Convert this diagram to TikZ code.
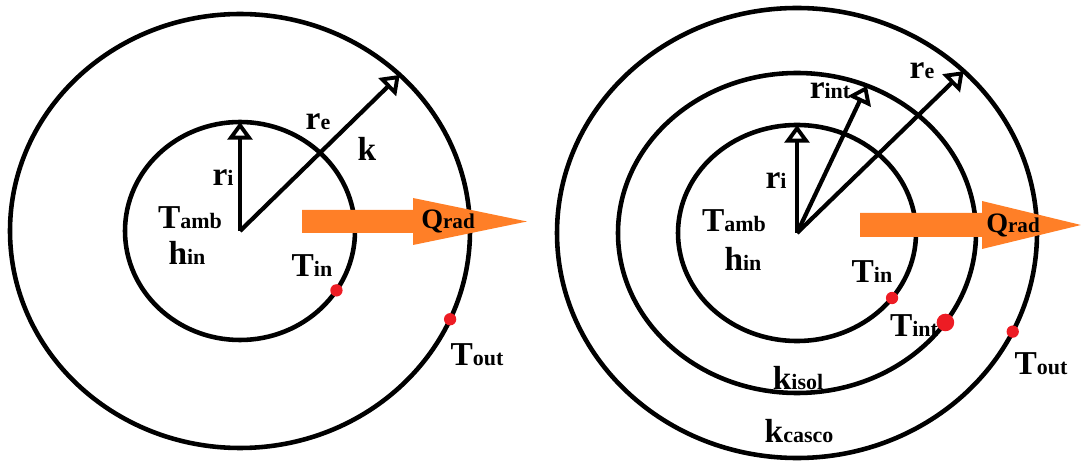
\documentclass[tikz,border=0pt]{standalone}
\usepackage{fontspec}
\setmainfont{Liberation Serif}
\usetikzlibrary{arrows.meta, positioning, calc}
\definecolor{paintorange}{HTML}{FF7F27}
\definecolor{paintred}{HTML}{ED1C24}
% big letter with a small tail on the same baseline
\newcommand{\symlbl}[2]{{\bfseries\fontsize{19}{19}\selectfont #1}{\bfseries\fontsize{12.5}{12.5}\selectfont #2}}
\newcommand{\qlbl}[2]{{\bfseries\fontsize{16}{16}\selectfont #1}{\bfseries\fontsize{12}{12}\selectfont #2}}

\begin{document}
\begin{tikzpicture}[
    x=0.02cm, y=0.02cm,
    wall/.style={line width=2.6pt},
    radvec/.style={line width=2.4pt,
                   -{Triangle[open, length=10pt, width=14pt, line width=2.2pt]}},
    lbl/.style={inner sep=0pt, text=black},
    probe/.style={circle, fill=paintred, inner sep=0pt, minimum size=#1},
    probe/.default=7pt,
    heat/.style={fill=paintorange},
  ]
    \useasboundingbox (0,0) rectangle (1081,463);

    % ---- single wall ----
    \coordinate (cL) at (240,232);
    \draw[wall] (cL) ellipse [x radius=115, y radius=109];
    \draw[wall] (cL) ellipse [x radius=230, y radius=217];
    \coordinate (riL) at ($(cL)+(90:115 and 109)$);
    \coordinate (reL) at ($(cL)+(46:230 and 217)$);
    \draw[radvec] (cL) -- (riL);
    \draw[radvec] (cL) -- (reL);

    \coordinate (qtailL) at (302,241.5);
    \coordinate (qneckL) at (413,241.5);
    \coordinate (qtipL)  at (527,241.5);
    \fill[heat] ($(qtailL)+(0,11.5)$) -- ($(qneckL)+(0,11.5)$) -- ($(qneckL)+(0,23.5)$)
      -- (qtipL) -- ($(qneckL)+(0,-23.5)$) -- ($(qneckL)+(0,-11.5)$)
      -- ($(qtailL)+(0,-11.5)$) -- cycle;

    \node[probe] (tinL) at ($(cL)+(-33:115 and 109)$) {};
    \node[probe] (toutL) at ($(cL)+(-24:230 and 217)$) {};

    \node[lbl] (lriL) at (223,285) {\symlbl{r}{i}};
    \node[lbl] (lreL) at (318,341) {\symlbl{r}{e}};
    \node[lbl] (lkL) at (367,314) {\symlbl{k}{}};
    \node[lbl] (ltambL) at (190,245) {\symlbl{T}{amb}};
    \node[lbl] (lhinL) at (187,210) {\symlbl{h}{in}};
    \node[lbl] (ltinL) at (312,197) {\symlbl{T}{in}};
    \node[lbl] (ltoutL) at (477,108) {\symlbl{T}{out}};
    \node[lbl] (lqL) at (448,242) {\qlbl{Q}{rad}};

    % ---- composite wall ----
    \coordinate (cR) at (797,230);
    \draw[wall] (cR) ellipse [x radius=119, y radius=108];
    \draw[wall] (cR) ellipse [x radius=179, y radius=160];
    \draw[wall] (cR) ellipse [x radius=240, y radius=225];
    \coordinate (riR) at ($(cR)+(90:119 and 108)$);
    \coordinate (rintR) at ($(cR)+(67:179 and 160)$);
    \coordinate (reR) at ($(cR)+(46:240 and 225)$);
    \draw[radvec] (cR) -- (riR);
    \draw[radvec] (cR) -- (rintR);
    \draw[radvec] (cR) -- (reR);

    \coordinate (qtailR) at (860,238);
    \coordinate (qneckR) at (982,238);
    \coordinate (qtipR)  at (1081,238);
    \fill[heat] ($(qtailR)+(0,12)$) -- ($(qneckR)+(0,12)$) -- ($(qneckR)+(0,24)$)
      -- (qtipR) -- ($(qneckR)+(0,-24)$) -- ($(qneckR)+(0,-12)$)
      -- ($(qtailR)+(0,-12)$) -- cycle;

    \node[probe] (tinR) at ($(cR)+(-37:119 and 108)$) {};
    \node[probe=10pt] (tintR) at ($(cR)+(-34:179 and 160)$) {};
    \node[probe] (toutR) at ($(cR)+(-26:240 and 225)$) {};

    \node[lbl] (lriR) at (776,282) {\symlbl{r}{i}};
    \node[lbl] (lrintR) at (830,372) {\symlbl{r}{int}};
    \node[lbl] (lreR) at (922,392) {\symlbl{r}{e}};
    \node[lbl] (ltambR) at (734,242) {\symlbl{T}{amb}};
    \node[lbl] (lhinR) at (743,204) {\symlbl{h}{in}};
    \node[lbl] (ltinR) at (872,191) {\symlbl{T}{in}};
    \node[lbl] (ltintR) at (914,137) {\symlbl{T}{int}};
    \node[lbl] (ltoutR) at (1041,99) {\symlbl{T}{out}};
    \node[lbl] (lkisol) at (798,85) {\symlbl{k}{isol}};
    \node[lbl] (lkcasco) at (799,32) {\symlbl{k}{casco}};
    \node[lbl] (lqR) at (1013,238) {\qlbl{Q}{rad}};
  \end{tikzpicture}
\end{document}
